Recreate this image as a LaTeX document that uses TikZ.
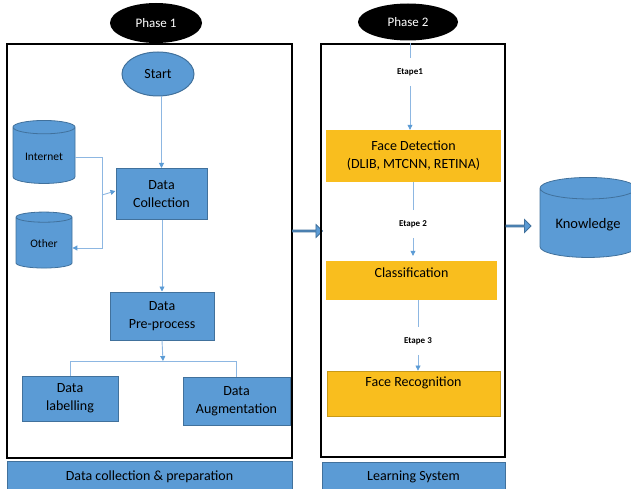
\documentclass[tikz,border=0pt]{standalone}
\usepackage{fontspec}
\setmainfont{Carlito}
\usetikzlibrary{shapes.geometric,shapes.arrows,arrows.meta,positioning}
\definecolor{bleu}{HTML}{5B9BD5}
\definecolor{bleuf}{HTML}{41719C}
\definecolor{bleuc}{HTML}{8DB7E2}
\definecolor{jaune}{HTML}{F9BE1E}
\definecolor{jaunef}{HTML}{C99A16}

\tikzset{
  boite/.style={draw=bleuf,fill=bleu,line width=1pt,align=center,
    font=\fontsize{14}{18}\selectfont},
  base/.style={shape=cylinder,shape border rotate=90,aspect=0.3,draw=bleuf,
    fill=bleu,line width=.8pt,font=\fontsize{11.5}{13}\selectfont},
  etape/.style={fill=jaune,align=center,font=\fontsize{14}{18}\selectfont},
  cadre/.style={draw=black,line width=1.2pt},
  barre/.style={draw=bleuf,fill=bleu,line width=.8pt,
    font=\fontsize{14}{16}\selectfont},
  phase/.style={ellipse,fill=black,text=white,font=\fontsize{13}{15}\selectfont},
  lien/.style={draw=bleuc,line width=.9pt},
  fleche/.style={lien,-{Triangle[width=5pt,length=5pt,color=bleu]}},
  pas/.style={font=\bfseries\fontsize{9}{10}\selectfont,inner ysep=10pt},
  gros/.style={single arrow,draw=bleuf,fill=bleu,line width=.8pt,
    minimum width=13pt,single arrow head extend=2.5pt,inner sep=0pt}
}

\begin{document}
\begin{tikzpicture}[x=1pt,y=-1pt]
  \useasboundingbox (0,0) rectangle (631,489);

  % phase 1
  \node[phase,minimum width=92pt,minimum height=40pt] (ph1) at (156,23) {Phase 1};
  \node[cadre,minimum width=285pt,minimum height=414pt] (f1) at (149.5,251) {};
  \node[barre,minimum width=285pt,minimum height=31pt] (b1) at (149.5,476.5)
    {Data collection \& preparation};

  \node[boite,ellipse,minimum width=72pt,minimum height=44pt,inner sep=1pt] (st) at (158,74) {Start};
  \node[base,minimum width=62pt,minimum height=63pt] (inet) at (44,157) {Internet};
  \node[base,minimum width=56pt,minimum height=56pt] (oth) at (44,244) {Other};
  \node[boite,minimum width=91pt,minimum height=51pt] (dc) at (161.5,194)
    {Data\\Collection};
  \node[boite,minimum width=104pt,minimum height=48pt] (pp) at (162,316)
    {Data\\Pre-process};
  \node[boite,minimum width=96pt,minimum height=45pt] (lab) at (70,398.5)
    {Data\\labelling};
  \node[boite,minimum width=107pt,minimum height=48pt] (aug) at (236.5,401)
    {Data\\Augmentation};

  \coordinate (j1) at (102,248);
  \coordinate (j2) at (102,195);
  \coordinate (j3) at (163,361);
  \draw[fleche] (st.south -| dc.north) -- (dc.north);
  \draw[fleche] (inet.east) -| (j1) -- (j1 -| oth.east);
  \draw[fleche] (j2) -- ([yshift=3pt]dc.west);
  \draw[fleche] (dc.south -| pp.north) -- (pp.north);
  \draw[fleche] (pp.south) -- (j3);
  \draw[lien] (j3 -| lab.north) -- (j3 -| aug.north);
  \draw[lien] (j3 -| lab.north) -- (lab.north);
  \draw[lien] (j3 -| aug.north) -- (aug.north);

  % entre les phases
  \node[gros,minimum height=30pt] (g1) at (307,231) {};

  % phase 2
  \node[phase,minimum width=100pt,minimum height=37pt] (ph2) at (408,22) {Phase 2};
  \node[cadre,minimum width=184pt,minimum height=413pt] (f2) at (413,250.5) {};
  \node[barre,minimum width=183pt,minimum height=30pt] (b2) at (413.5,477)
    {Learning System};

  \node[etape,minimum width=175pt,minimum height=52pt] (fd) at (413.5,156)
    {Face Detection\\(DLIB, MTCNN, RETINA)};
  \node[etape,minimum width=171pt,minimum height=39pt,
    label={[anchor=north,yshift=-3pt,font=\fontsize{14}{18}\selectfont]north:Classification}]
    (cl) at (411.5,280.5) {};
  \node[etape,draw=jaunef,line width=.8pt,minimum width=173pt,minimum height=45pt,
    label={[anchor=north,yshift=-3pt,font=\fontsize{14}{18}\selectfont]north:Face Recognition}]
    (fr) at (413.5,393.5) {};

  \node[pas] (e1) at (410,72) {Etape1};
  \node[pas] (e2) at (413,224) {Etape 2};
  \node[pas] (e3) at (418,341) {Etape 3};

  \draw[lien,line width=.6pt] (e1.north |- f2.north) -- (e1.north);
  \draw[fleche,line width=.6pt] (e1.south) -- (e1.south |- fd.north);
  \draw[lien,line width=.6pt] (e2.north |- fd.south) -- (e2.north);
  \draw[fleche,line width=.6pt] (e2.south) -- ([yshift=5pt]e2.south |- cl.north);
  \draw[lien,line width=.6pt] (e3.north |- cl.south) -- (e3.north);
  \draw[fleche,line width=.6pt] (e3.south) -- (e3.south |- fr.north);

  \node[gros,minimum height=25pt] (g2) at (518,226) {};
  \node[base,minimum width=96pt,minimum height=80pt,font=\fontsize{14.5}{16}\selectfont]
    (kn) at (588,225) {Knowledge};
\end{tikzpicture}
\end{document}
